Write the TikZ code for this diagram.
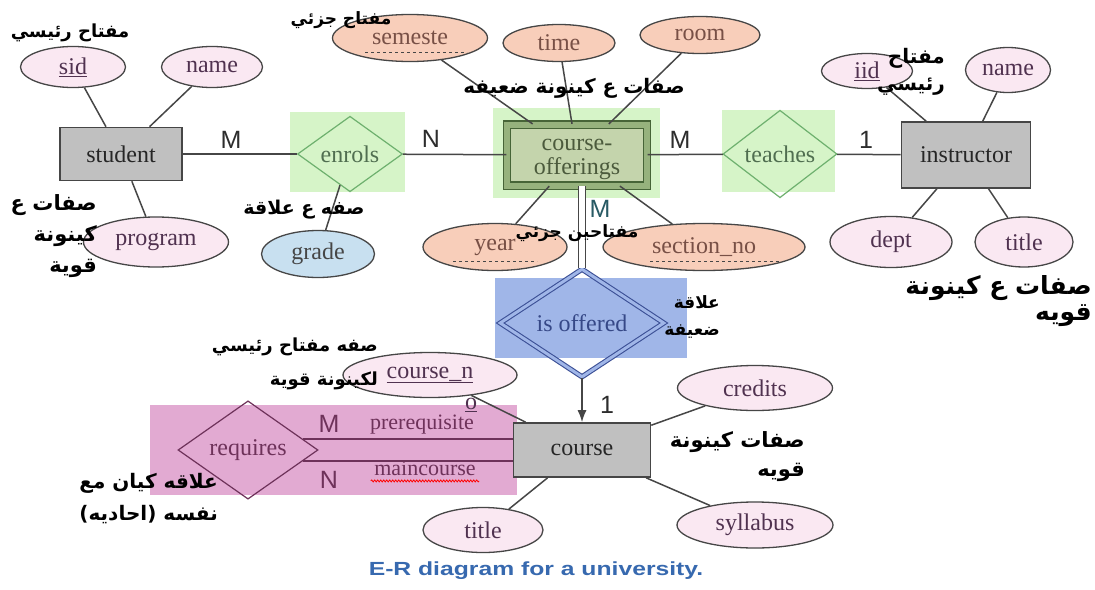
\documentclass[tikz,border=0pt]{standalone}
\usepackage{fontspec}
\setmainfont{Liberation Serif}
\newfontfamily\labelfont{Liberation Sans}
\newfontfamily\captionfont[FakeStretch=1.3]{Liberation Sans}
\newfontfamily\arabicfont[Script=Arabic]{DejaVu Sans}
\TeXXeTstate=1
\usetikzlibrary{shapes.geometric,positioning,arrows.meta,decorations.pathmorphing}

\definecolor{edgegray}{RGB}{70,70,70}
\definecolor{entfill}{RGB}{192,192,192}
\definecolor{pinkattr}{RGB}{250,232,242}
\definecolor{salmonattr}{RGB}{248,206,186}
\definecolor{blueattr}{RGB}{200,224,240}
\definecolor{relgreen}{RGB}{214,244,200}
\definecolor{relline}{RGB}{110,176,110}
\definecolor{reltext}{RGB}{80,110,80}
\definecolor{coline}{RGB}{70,100,55}
\definecolor{coband}{RGB}{150,178,125}
\definecolor{cofill}{RGB}{196,212,172}
\definecolor{cotext}{RGB}{75,90,60}
\definecolor{weakbg}{RGB}{160,182,232}
\definecolor{weakline}{RGB}{60,80,150}
\definecolor{reqbg}{RGB}{226,170,210}
\definecolor{reqline}{RGB}{110,50,90}
\definecolor{attrtext}{RGB}{80,50,80}
\definecolor{wtext}{RGB}{120,80,70}
\definecolor{cardgray}{RGB}{45,45,45}
\definecolor{mteal}{RGB}{40,90,100}
\definecolor{capblue}{RGB}{55,105,175}

\newcommand{\arline}[1]{\beginR #1\endR}
\newcommand{\arsize}[2]{\fontsize{#1}{#2}\selectfont}

\begin{document}
\begin{tikzpicture}[x=1pt,y=-1pt,font=\fontsize{24}{24}\selectfont]
    \tikzstyle{entity}=[rectangle, draw=edgegray, fill=entfill, line width=1.6pt, inner sep=0pt, text=black!85]
    \tikzstyle{attr}=[ellipse, draw=edgegray, fill=pinkattr, line width=1.3pt, inner sep=0pt, text=attrtext]
    \tikzstyle{wattr}=[attr, fill=salmonattr, text=wtext]
    \tikzstyle{rel}=[diamond, draw=relline, line width=1.2pt, inner sep=0pt, text=reltext]
    \tikzstyle{card}=[font=\labelfont\fontsize{25}{25}\selectfont, text=cardgray]
    \tikzstyle{note}=[font=\arabicfont\bfseries\arsize{17}{30}, align=right, inner sep=0pt]
    \tikzstyle{connect}=[draw=edgegray, line width=1.5pt]
    \tikzstyle{dashline}=[dashed, draw=edgegray, line width=1pt]

    \useasboundingbox[fill=white] (0,0) rectangle (1095,589);

    % coloured areas
    \fill[relgreen] (290,112) rectangle (405,192);
    \fill[relgreen] (493,108) rectangle (660,198);
    \fill[relgreen] (722,110) rectangle (835,192);
    \fill[weakbg] (495,278) rectangle (687,358);
    \fill[reqbg] (150,405) rectangle (517,495);

    \node[entity, minimum width=122pt, minimum height=53pt] (student) at (121,154) {student};
    \node[entity, minimum width=129pt, minimum height=66pt] (instructor) at (966,155) {instructor};
    \node[entity, minimum width=137pt, minimum height=54pt] (course) at (582,450) {course};
    \node[rectangle, draw=coline, fill=cofill, double=coband, double distance=6pt, line width=1.2pt,
          minimum width=140pt, minimum height=61pt, align=center, text=cotext] (offering) at (577,155) {\rule{0pt}{21pt}course-\\offerings};

    \node[rel, minimum width=105pt, minimum height=67pt] (enrols) at (350,154) {enrols};
    \node[rel, minimum width=114pt, minimum height=68pt] (teaches) at (780,154) {teaches};
    \node[diamond, draw=weakline, double=weakbg, double distance=3pt, line width=1.1pt, inner sep=0pt,
          minimum width=164pt, minimum height=62pt, text=weakline!90!black] (isoffered) at (582,323) {is offered};
    \node[diamond, draw=reqline, line width=1.2pt, inner sep=0pt, minimum width=140pt, minimum height=74pt,
          text=reqline] (requires) at (248,450) {requires};

    \node[attr, minimum width=105pt, minimum height=41pt] (sid) at (73,67) {\underline{sid}};
    \node[attr, minimum width=101pt, minimum height=41pt] (sname) at (212,67) {name};
    \node[attr, minimum width=145pt, minimum height=50pt] (program) at (156,242) {program};
    \node[attr, fill=blueattr, text=edgegray, minimum width=113pt, minimum height=47pt] (grade) at (318,254) {grade};
    \node[wattr, minimum width=155pt, minimum height=47pt] (semester) at (410,38) {semeste};
    \node[wattr, minimum width=112pt, minimum height=37pt] (time) at (559,43) {time};
    \node[wattr, minimum width=120pt, minimum height=37pt] (room) at (700,35) {room};
    \node[wattr, minimum width=144pt, minimum height=47pt] (year) at (495,247) {year};
    \node[wattr, minimum width=202pt, minimum height=47pt] (section) at (704,247) {section\_no};
    \node[attr, minimum width=91pt, minimum height=35pt] (iid) at (867,71) {\underline{iid}};
    \node[attr, minimum width=85pt, minimum height=45pt] (iname) at (1008,70) {name};
    \node[attr, minimum width=122pt, minimum height=51pt] (dept) at (891,242) {dept};
    \node[attr, minimum width=98pt, minimum height=50pt] (ititle) at (1024,242) {title};
    \node[attr, minimum width=174pt, minimum height=45pt] (courseno) at (430,375) {\underline{course\_n}};
    \node[text=attrtext, inner sep=0pt] (coursenotail) at (471,405) {\underline{o}};
    \node[attr, minimum width=155pt, minimum height=45pt] (credits) at (755,388) {credits};
    \node[attr, minimum width=156pt, minimum height=46pt] (syllabus) at (755,525) {syllabus};
    \node[attr, minimum width=120pt, minimum height=45pt] (ctitle) at (483,530) {title};

    \path
      (student) edge [connect] (enrols)
      (enrols) edge [connect] (offering)
      (offering) edge [connect] (teaches)
      (teaches) edge [connect] (instructor)
      (sid) edge [connect] (student)
      (sname) edge [connect] (student)
      (program) edge [connect] (student)
      (enrols) edge [connect] (grade)
      (semester) edge [connect] (offering)
      (time) edge [connect] (offering)
      (room) edge [connect] (offering)
      (year) edge [connect] (offering)
      (section) edge [connect] (offering)
      (iid) edge [connect] (instructor)
      (iname) edge [connect] (instructor)
      (dept) edge [connect] (instructor)
      (ititle) edge [connect] (instructor)
      (courseno) edge [connect] (course)
      (credits) edge [connect] (course)
      (syllabus) edge [connect] (course)
      (ctitle) edge [connect] (course);
    \draw[connect, double=white, double distance=6pt, line width=1.3pt] (isoffered.north |- offering.south) -- (isoffered.north);
    \draw[connect, -{Latex[length=12pt,width=9pt]}] (isoffered) -- (course);
    \draw[connect, draw=reqline] (requires.11) -- (requires.11 -| course.west);
    \draw[connect, draw=reqline] (requires.-11) -- (requires.-11 -| course.west);

    \draw[dashline] ([xshift=-45pt,yshift=10pt]semester.south) -- ([xshift=57pt,yshift=10pt]semester.south);
    \draw[dashline] ([xshift=-42pt,yshift=10pt]year.south) -- ([xshift=42pt,yshift=10pt]year.south);
    \draw[dashline] ([xshift=-54pt,yshift=10pt]section.south) -- ([xshift=83pt,yshift=10pt]section.south);

    \node[text=reqline, font=\fontsize{22}{22}\selectfont] (prereq) at (422,425) {prerequisite};
    \node[text=reqline, font=\fontsize{22}{22}\selectfont] (maincourse) at (425,468) {maincourse};
    \draw[red, line width=0.8pt, decorate, decoration={snake, amplitude=1pt, segment length=3pt}]
      ([yshift=-2pt]maincourse.south west) -- ([yshift=-2pt]maincourse.south east);

    \node[card] (mstudent) at (231,140) {M};
    \node[card] (nenrols) at (431,139) {N};
    \node[card] (mteaches) at (680,140) {M};
    \node[card] (oneinstr) at (866,140) {1};
    \node[card, text=mteal] (moffering) at (600,209) {M};
    \node[card] (onecourse) at (607,405) {1};
    \node[card, text=reqline] (mrequires) at (329,424) {M};
    \node[card, text=reqline] (nrequires) at (329,480) {N};

    \node[note, font=\arabicfont\bfseries\arsize{18}{30}] (pkstudent) at (70,33) {\arline{مفتاح رئيسي}};
    \node[note] (pksem) at (341,20) {\arline{مفتاح جزئي}};
    \node[note, font=\arabicfont\bfseries\arsize{20}{30}] (weakattrs) at (574,88) {\arline{صفات ع كينونة ضعيفه}};
    \node[note, anchor=east, font=\arabicfont\bfseries\arsize{20}{27}] (pkinstr) at (945,72) {\arline{مفتاح}\\\arline{رئيسي}};
    \node[note, anchor=east, font=\arabicfont\bfseries\arsize{21}{31}] (strongstudent) at (97,236) {\arline{صفات ع}\\\arline{كينونة}\\\arline{قوية}};
    \node[note, font=\arabicfont\bfseries\arsize{19}{30}] (relattr) at (304,210) {\arline{صفه ع علاقة}};
    \node[note] (pkpartial) at (577,233) {\arline{مفتاحين جزئي}};
    \node[note, anchor=east, font=\arabicfont\bfseries\arsize{17}{27}] (weakrel) at (720,317) {\arline{علاقة}\\\arline{ضعيفة}};
    \node[note, anchor=east, font=\arabicfont\bfseries\arsize{25}{26}] (stronginstr) at (1092,301) {\arline{صفات ع كينونة}\\\arline{قويه}};
    \node[note, anchor=east, font=\arabicfont\bfseries\arsize{18}{34}] (pkcourse) at (378,364) {\arline{صفه مفتاح رئيسي}\\\arline{لكينونة قوية}};
    \node[note, anchor=east, font=\arabicfont\bfseries\arsize{21}{29}] (strongcourse) at (805,457) {\arline{صفات كينونة}\\\arline{قويه}};
    \node[note, anchor=east, font=\arabicfont\bfseries\arsize{20}{32}] (selfrel) at (218,499) {\arline{علاقه كيان مع}\\\arline{نفسه (احاديه)}};

    \node[font=\captionfont\bfseries\fontsize{19}{19}\selectfont, text=capblue] (caption) at (536,571) {E-R diagram for a university.};
\end{tikzpicture}
\end{document}
